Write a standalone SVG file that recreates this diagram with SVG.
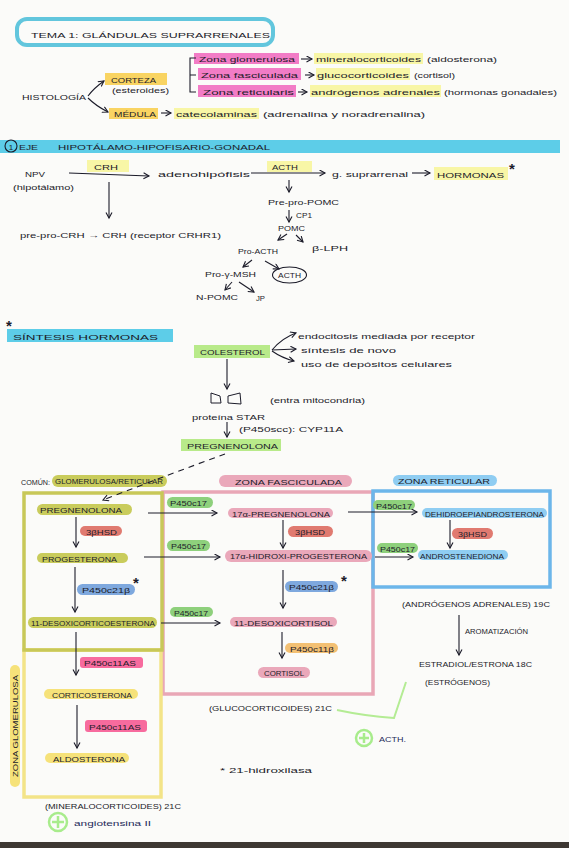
<svg xmlns="http://www.w3.org/2000/svg" width="569" height="848" viewBox="0 0 569 848">
<defs>
<marker id="a" markerUnits="userSpaceOnUse" markerWidth="8" markerHeight="8" refX="6" refY="3.5" orient="auto"><path d="M0.5,0.5 L6,3.5 L0.5,6.5" fill="none" stroke="#1c1c2a" stroke-width="1.1"/></marker>
<style>
text{font-family:"Liberation Sans","DejaVu Sans",sans-serif;fill:#1c1c2a;font-size:8px}
.ast{font-size:15px;font-weight:bold}
.c{stroke:#1c1c2a;stroke-width:1.1;fill:none}
.ar{marker-end:url(#a)}
.hy{fill:#f8f6a6}
.hp{fill:#f27cc6}
.ho{fill:#f9d462}
.ol{fill:#c9cc5c}
.pk{fill:#eaa8ba}
.bl{fill:#8fcdf2}
.gr{fill:#8ed07c}
.rd{fill:#e07a70}
.b2{fill:#7ea8de}
.or{fill:#f3c073}
.hk{fill:#f76b9e}
.ye{fill:#f6e27a}
.nv{fill:#1e2a5a}
.plus{fill:none;stroke:#a8ec8c;stroke-width:2.5}
</style>
</defs>
<rect width="569" height="848" fill="#fbfbf9"/>
<rect x="0" y="842" width="569" height="6" fill="#3e3833"/>

<g id="title">
<rect x="17" y="19" width="256" height="26" rx="10" fill="none" stroke="#62c6dd" stroke-width="4"/>
<text x="31" y="38" font-size="11" textLength="239" lengthAdjust="spacingAndGlyphs">TEMA 1: GLÁNDULAS SUPRARRENALES</text>
</g>

<g id="histologia">
<text x="22" y="100" font-size="9" textLength="64" lengthAdjust="spacingAndGlyphs">HISTOLOGÍA</text>
</g>
<g id="corteza">
<rect class="ho" x="105" y="73" width="62" height="12"/>
<text x="111" y="83" font-size="9" textLength="45" lengthAdjust="spacingAndGlyphs">CORTEZA</text>
<text x="112" y="93" textLength="57" lengthAdjust="spacingAndGlyphs">(esteroides)</text>
</g>
<g id="medula">
<rect class="ho" x="109" y="108" width="49" height="11"/>
<text x="114" y="117" font-size="9" textLength="42" lengthAdjust="spacingAndGlyphs">MÉDULA</text>
<rect class="hy" x="174" y="108" width="85" height="11"/>
<text x="176" y="117" font-size="9" textLength="81" lengthAdjust="spacingAndGlyphs">catecolaminas</text>
<text x="263" y="117" font-size="9" textLength="162" lengthAdjust="spacingAndGlyphs">(adrenalina y noradrenalina)</text>
</g>
<g id="zona-glom">
<rect class="hp" x="194" y="53" width="105" height="11"/>
<text x="199" y="62" font-size="9" textLength="96" lengthAdjust="spacingAndGlyphs">Zona glomerulosa</text>
<rect class="hy" x="314" y="53" width="109" height="11"/>
<text x="316" y="62" font-size="9" textLength="105" lengthAdjust="spacingAndGlyphs">mineralocorticoides</text>
<text x="427" y="62" font-size="9" textLength="70" lengthAdjust="spacingAndGlyphs">(aldosterona)</text>
</g>
<g id="zona-fasc">
<rect class="hp" x="198" y="68" width="103" height="12"/>
<text x="201" y="78" font-size="9" textLength="97" lengthAdjust="spacingAndGlyphs">Zona fasciculada</text>
<rect class="hy" x="316" y="68" width="94" height="12"/>
<text x="317" y="78" font-size="9" textLength="92" lengthAdjust="spacingAndGlyphs">glucocorticoides</text>
<text x="414" y="78" font-size="9" textLength="41" lengthAdjust="spacingAndGlyphs">(cortisol)</text>
</g>
<g id="zona-ret">
<rect class="hp" x="198" y="85" width="98" height="12"/>
<text x="203" y="95" font-size="9" textLength="91" lengthAdjust="spacingAndGlyphs">Zona reticularis</text>
<rect class="hy" x="310" y="85" width="131" height="12"/>
<text x="311" y="95" font-size="9" textLength="129" lengthAdjust="spacingAndGlyphs">andrógenos adrenales</text>
<text x="444" y="95" font-size="9" textLength="113" lengthAdjust="spacingAndGlyphs">(hormonas gonadales)</text>
</g>

<g id="eje-header">
<rect x="0" y="140" width="560" height="13" fill="#5dcde8"/>
<circle cx="11" cy="146" r="6" fill="none" stroke="#1c1c2a" stroke-width="1.1"/>
<text x="11" y="149.5" font-size="9" text-anchor="middle">1</text>
<text x="19" y="150" font-size="9" textLength="19" lengthAdjust="spacingAndGlyphs">EJE</text>
<text x="58" y="150" font-size="9" textLength="212" lengthAdjust="spacingAndGlyphs">HIPOTÁLAMO-HIPOFISARIO-GONADAL</text>
</g>
<g id="npv">
<text x="25" y="177" font-size="9" textLength="20" lengthAdjust="spacingAndGlyphs">NPV</text>
<text x="13" y="190" textLength="61" lengthAdjust="spacingAndGlyphs">(hipotálamo)</text>
</g>
<g id="crh"><rect class="hy" x="87" y="160" width="42" height="12"/><text x="94" y="170" textLength="24" lengthAdjust="spacingAndGlyphs">CRH</text></g>
<g id="adeno"><text x="158" y="177" font-size="9" textLength="92" lengthAdjust="spacingAndGlyphs">adenohipófisis</text></g>
<g id="acth1"><rect class="hy" x="267" y="161" width="45" height="11"/><text x="272" y="170" textLength="26" lengthAdjust="spacingAndGlyphs">ACTH</text></g>
<g id="gsupra"><text x="332" y="177" font-size="9" textLength="76" lengthAdjust="spacingAndGlyphs">g. suprarrenal</text></g>
<g id="hormonas"><rect class="hy" x="434" y="167" width="74" height="13"/><text x="437" y="178" font-size="9" textLength="67" lengthAdjust="spacingAndGlyphs">HORMONAS</text><text class="ast" x="509" y="174">*</text></g>
<g id="preprocrh"><text x="20" y="238" font-size="8.5" textLength="201" lengthAdjust="spacingAndGlyphs">pre-pro-CRH → CRH (receptor CRHR1)</text></g>
<g id="prepropomc"><text x="268" y="205" textLength="71" lengthAdjust="spacingAndGlyphs">Pre-pro-POMC</text><text x="296" y="218" textLength="16" lengthAdjust="spacingAndGlyphs">CP1</text></g>
<g id="pomc"><text x="278" y="231" textLength="27" lengthAdjust="spacingAndGlyphs">POMC</text></g>
<g id="blph"><text x="312" y="251" textLength="36" lengthAdjust="spacingAndGlyphs">β-LPH</text></g>
<g id="proacth"><text x="238" y="254" textLength="40" lengthAdjust="spacingAndGlyphs">Pro-ACTH</text></g>
<g id="progmsh"><text x="205" y="277" textLength="51" lengthAdjust="spacingAndGlyphs">Pro-γ-MSH</text></g>
<g id="acth2"><ellipse cx="289.5" cy="275" rx="17" ry="8" fill="none" stroke="#1c1c2a" stroke-width="1.1"/><text x="278" y="278" textLength="23" lengthAdjust="spacingAndGlyphs">ACTH</text></g>
<g id="npomc"><text x="196" y="300" textLength="42" lengthAdjust="spacingAndGlyphs">N-POMC</text></g>
<g id="jp"><text x="256" y="301" textLength="9" lengthAdjust="spacingAndGlyphs">JP</text></g>

<g id="sintesis-header">
<text class="ast" x="6" y="331">*</text>
<rect x="7" y="329" width="166" height="13" fill="#5dcde8"/>
<text x="13" y="340" font-size="9" textLength="145" lengthAdjust="spacingAndGlyphs">SÍNTESIS HORMONAS</text>
</g>
<g id="colesterol"><rect x="194" y="345" width="76" height="13" fill="#b8ea8a"/><text x="200" y="355" font-size="8.5" textLength="65" lengthAdjust="spacingAndGlyphs">COLESTEROL</text></g>
<g id="fuentes">
<text x="298" y="339" font-size="8.5" textLength="177" lengthAdjust="spacingAndGlyphs">endocitosis mediada por receptor</text>
<text x="301" y="353" font-size="8.5" textLength="95" lengthAdjust="spacingAndGlyphs">síntesis de novo</text>
<text x="301" y="367" font-size="8.5" textLength="151" lengthAdjust="spacingAndGlyphs">uso de depósitos celulares</text>
</g>
<g id="star">
<path d="M211,393 L220,396 L221,403 L211,403 Z M228,396 L240,393 L241,404 L228,403 Z" fill="none" stroke="#1c1c2a" stroke-width="1"/>
<text x="270" y="403" textLength="95" lengthAdjust="spacingAndGlyphs">(entra mitocondria)</text>
<text x="192" y="420" textLength="73" lengthAdjust="spacingAndGlyphs">proteína STAR</text>
<text x="239" y="432" textLength="104" lengthAdjust="spacingAndGlyphs">(P450scc): CYP11A</text>
</g>
<g id="pregnenolona0"><rect x="181" y="439" width="100" height="12" fill="#b8ea8a"/><text x="187" y="449" font-size="8.5" textLength="91" lengthAdjust="spacingAndGlyphs">PREGNENOLONA</text></g>

<g id="zone-boxes">
<rect x="163" y="492" width="210" height="202" fill="none" stroke="#e9a7b6" stroke-width="3.5"/>
<rect x="373" y="491" width="177" height="96" fill="none" stroke="#6cb6ea" stroke-width="3.5"/>
<rect x="24" y="650" width="137" height="147" fill="none" stroke="#f3e488" stroke-width="3.5"/>
<rect x="24" y="493" width="138" height="157" fill="none" stroke="#c8c858" stroke-width="3.5"/>
</g>
<g id="comun"><text x="21" y="485" font-size="7.5" textLength="29" lengthAdjust="spacingAndGlyphs">COMÚN:</text><rect class="ol" x="52" y="475" width="115" height="12" rx="6"/><text x="55" y="484" font-size="7.5" textLength="108" lengthAdjust="spacingAndGlyphs">GLOMERULOSA/RETICULAR</text></g>
<g id="h-fasc"><rect class="pk" x="219" y="475" width="133" height="12" rx="6"/><text x="235" y="484.5" textLength="107" lengthAdjust="spacingAndGlyphs">ZONA FASCICULADA</text></g>
<g id="h-ret"><rect class="bl" x="393" y="475" width="104" height="11" rx="5.5"/><text x="398" y="484" textLength="92" lengthAdjust="spacingAndGlyphs">ZONA RETICULAR</text></g>

<g id="pregnenolona"><rect class="ol" x="37" y="504" width="95" height="11" rx="5.5"/><text x="40" y="513" textLength="82" lengthAdjust="spacingAndGlyphs">PREGNENOLONA</text></g>
<g id="hsd1"><rect class="rd" x="80" y="526" width="42" height="10" rx="5"/><text x="86" y="534.5" textLength="31" lengthAdjust="spacingAndGlyphs">3βHSD</text></g>
<g id="progesterona"><rect class="ol" x="37" y="553" width="91" height="10" rx="5"/><text x="42" y="561.5" textLength="75" lengthAdjust="spacingAndGlyphs">PROGESTERONA</text></g>
<g id="c21a"><rect class="b2" x="77" y="584" width="58" height="11" rx="5.5"/><text x="82" y="593" textLength="48" lengthAdjust="spacingAndGlyphs">P450c21β</text><text class="ast" x="133" y="588">*</text></g>
<g id="doc"><rect class="ol" x="28" y="617" width="129" height="11" rx="5.5"/><text x="31" y="626" textLength="124" lengthAdjust="spacingAndGlyphs">11-DESOXICORTICOESTERONA</text></g>
<g id="c17a"><rect class="gr" x="167" y="497" width="46" height="11" rx="5.5"/><text x="170" y="506" textLength="37" lengthAdjust="spacingAndGlyphs">P450c17</text></g>
<g id="c17b"><rect class="gr" x="167" y="540" width="43" height="11" rx="5.5"/><text x="171" y="549" textLength="35" lengthAdjust="spacingAndGlyphs">P450c17</text></g>
<g id="c17c"><rect class="gr" x="170" y="607" width="43" height="10" rx="5"/><text x="174" y="615.5" textLength="34" lengthAdjust="spacingAndGlyphs">P450c17</text></g>

<g id="preg17"><rect class="pk" x="228" y="508" width="105" height="10" rx="5"/><text x="232" y="516.5" textLength="98" lengthAdjust="spacingAndGlyphs">17α-PREGNENOLONA</text></g>
<g id="hsd2"><rect class="rd" x="288" y="526" width="45" height="11" rx="5.5"/><text x="295" y="534.5" textLength="30" lengthAdjust="spacingAndGlyphs">3βHSD</text></g>
<g id="ohprog"><rect class="pk" x="225" y="550" width="147" height="12" rx="6"/><text x="230" y="559" textLength="137" lengthAdjust="spacingAndGlyphs">17α-HIDROXI-PROGESTERONA</text></g>
<g id="c21b"><rect class="b2" x="285" y="581" width="53" height="11" rx="5.5"/><text x="289" y="590" textLength="45" lengthAdjust="spacingAndGlyphs">P450c21β</text><text class="ast" x="341" y="586">*</text></g>
<g id="desoxicortisol"><rect class="pk" x="230" y="617" width="107" height="10" rx="5"/><text x="234" y="625.5" textLength="99" lengthAdjust="spacingAndGlyphs">11-DESOXICORTISOL</text></g>
<g id="c11b"><rect class="or" x="285" y="643" width="53" height="10" rx="5"/><text x="290" y="651.5" textLength="44" lengthAdjust="spacingAndGlyphs">P450c11β</text></g>
<g id="cortisol"><rect class="pk" x="258" y="667" width="52" height="11" rx="5.5"/><text x="264" y="675.5" textLength="40" lengthAdjust="spacingAndGlyphs">CORTISOL</text></g>

<g id="c17d"><rect class="gr" x="373" y="500" width="42" height="10" rx="5"/><text x="376" y="508.5" textLength="36" lengthAdjust="spacingAndGlyphs">P450c17</text></g>
<g id="c17e"><rect class="gr" x="377" y="543" width="41" height="10" rx="5"/><text x="380" y="551.5" textLength="35" lengthAdjust="spacingAndGlyphs">P450c17</text></g>
<g id="dhea"><rect class="bl" x="422" y="508" width="125" height="10" rx="5"/><text x="425" y="516.5" textLength="119" lengthAdjust="spacingAndGlyphs">DEHIDROEPIANDROSTERONA</text></g>
<g id="hsd3"><rect class="rd" x="452" y="528" width="41" height="11" rx="5.5"/><text x="458" y="536.5" textLength="29" lengthAdjust="spacingAndGlyphs">3βHSD</text></g>
<g id="androst"><rect class="bl" x="418" y="550" width="90" height="10" rx="5"/><text x="420" y="558.5" textLength="84" lengthAdjust="spacingAndGlyphs">ANDROSTENEDIONA</text></g>
<g id="androgenos"><text x="402" y="607" font-size="7.5" textLength="148" lengthAdjust="spacingAndGlyphs">(ANDRÓGENOS ADRENALES) 19C</text></g>
<g id="aromat"><text x="465" y="634" font-size="6.5" textLength="63" lengthAdjust="spacingAndGlyphs">AROMATIZACIÓN</text></g>
<g id="estradiol"><text x="419" y="667" font-size="7" textLength="113" lengthAdjust="spacingAndGlyphs">ESTRADIOL/ESTRONA 18C</text><text x="425" y="685" font-size="7" textLength="65" lengthAdjust="spacingAndGlyphs">(ESTRÓGENOS)</text></g>

<g id="c11as1"><rect class="hk" x="80" y="657" width="63" height="11" rx="3"/><text x="84" y="666" textLength="52" lengthAdjust="spacingAndGlyphs">P450c11AS</text></g>
<g id="corticosterona"><rect class="ye" x="44" y="689" width="94" height="10" rx="5"/><text x="52" y="697.5" textLength="80" lengthAdjust="spacingAndGlyphs">CORTICOSTERONA</text></g>
<g id="c11as2"><rect class="hk" x="85" y="720" width="62" height="12" rx="3"/><text x="89" y="729.5" textLength="52" lengthAdjust="spacingAndGlyphs">P450c11AS</text></g>
<g id="aldosterona"><rect class="ye" x="45" y="753" width="84" height="10" rx="5"/><text x="53" y="761.5" textLength="72" lengthAdjust="spacingAndGlyphs">ALDOSTERONA</text></g>
<g id="h-glom"><rect class="ye" x="10" y="665" width="10" height="122" rx="5"/><text x="15" y="729" font-size="7.5" text-anchor="middle" transform="rotate(-90 15 726)" textLength="102" lengthAdjust="spacingAndGlyphs">ZONA GLOMERULOSA</text></g>
<g id="mineralo"><text x="45" y="809" font-size="7.5" textLength="136" lengthAdjust="spacingAndGlyphs">(MINERALOCORTICOIDES) 21C</text></g>
<g id="angio"><circle class="plus" cx="58" cy="822" r="9"/><path class="plus" d="M52,822 H64 M58,816 V828"/><text x="74" y="826" font-size="8.5" class="nv" textLength="77" lengthAdjust="spacingAndGlyphs">angiotensina II</text></g>
<g id="gluco"><text x="209" y="711" font-size="7.5" textLength="123" lengthAdjust="spacingAndGlyphs">(GLUCOCORTICOIDES) 21C</text></g>
<g id="acth3"><circle class="plus" cx="364" cy="738" r="8"/><path class="plus" d="M359,738 H369 M364,733 V743"/><text x="379" y="742" class="nv" textLength="27" lengthAdjust="spacingAndGlyphs">ACTH.</text></g>
<g id="nota"><text x="220" y="773" font-size="8.5" textLength="92" lengthAdjust="spacingAndGlyphs">* 21-hidroxilasa</text></g>

<g id="connectors">
<path class="c ar" d="M88,96 Q94,88 104,81"/>
<path class="c ar" d="M88,98 Q96,106 108,112"/>
<path class="c" d="M196,58 H190 V92 H196 M190,75 H196"/>
<path class="c ar" d="M301,59 H312"/>
<path class="c ar" d="M305,75 H314"/>
<path class="c ar" d="M298,92 H307"/>
<path class="c ar" d="M161,113 H171"/>
<path class="c ar" d="M69,173 L149,176"/>
<path class="c ar" d="M251,173 L325,173"/>
<path class="c ar" d="M412,173 L430,173"/>
<path class="c ar" d="M109,182 V218"/>
<path class="c ar" d="M289,180 V192"/>
<path class="c ar" d="M289,210 V222"/>
<path class="c ar" d="M287,234 L278,240"/>
<path class="c ar" d="M296,235 L303,242"/>
<path class="c ar" d="M252,260 L243,267"/>
<path class="c ar" d="M265,261 L279,269"/>
<path class="c ar" d="M232,282 L225,290"/>
<path class="c ar" d="M239,282 L254,292"/>
<path class="c ar" d="M272,350 Q282,338 296,333"/>
<path class="c ar" d="M272,350 L296,349"/>
<path class="c ar" d="M272,351 Q282,358 294,361"/>
<path class="c ar" d="M227,359 V389"/>
<path class="c ar" d="M227,422 V437"/>
<path class="c ar" d="M225,454 Q170,474 103,500" stroke-dasharray="6 5"/>
<path class="c ar" d="M76,517 V547"/>
<path class="c ar" d="M75,567 V612"/>
<path class="c ar" d="M76,632 V675"/>
<path class="c ar" d="M77,705 V748"/>
<path class="c ar" d="M148,513 H217"/>
<path class="c ar" d="M144,557 H220"/>
<path class="c ar" d="M161,623 H220"/>
<path class="c ar" d="M283,520 V548"/>
<path class="c ar" d="M283,570 V608"/>
<path class="c ar" d="M282,632 V658"/>
<path class="c ar" d="M348,512 H417"/>
<path class="c ar" d="M375,557 H413"/>
<path class="c ar" d="M450,520 V548"/>
<path class="c ar" d="M459,615 V655"/>
<path d="M337,710 Q365,716 394,718 L406,682" fill="none" stroke="#b4ec94" stroke-width="2"/>
</g>
</svg>
